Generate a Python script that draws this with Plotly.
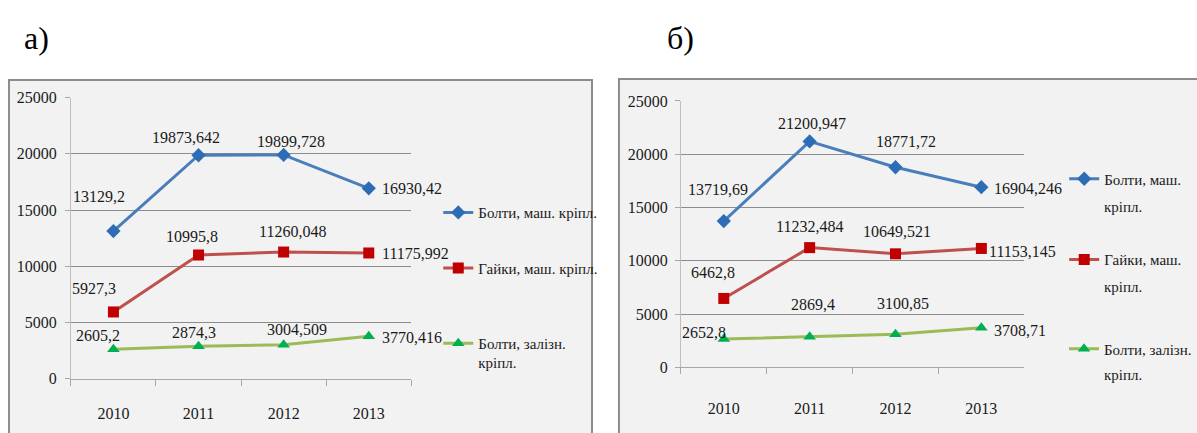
import plotly.graph_objects as go

W, H = 1197, 433

years = ["2010", "2011", "2012", "2013"]
series_names = ["Болти, маш. кріпл.", "Гайки, маш. кріпл.", "Болти, залізн. кріпл."]

# panel а)
a_bolts_mach = [13129.2, 19873.642, 19899.728, 16930.42]
a_nuts_mach = [5927.3, 10995.8, 11260.048, 11175.992]
a_bolts_rail = [2605.2, 2874.3, 3004.509, 3770.416]

# panel б)
b_bolts_mach = [13719.69, 21200.947, 18771.72, 16904.246]
b_nuts_mach = [6462.8, 11232.484, 10649.521, 11153.145]
b_bolts_rail = [2652.8, 2869.4, 3100.85, 3708.71]

y_ticks = [0, 5000, 10000, 15000, 20000, 25000]

FONT = "Liberation Serif, Times New Roman, DejaVu Serif, serif"
TXT = "#1a1a1a"
line_cols = ["#4a7ebb", "#c0504d", "#9bbb59"]
mark_cols = ["#2c6db5", "#c00000", "#00b050"]
symbols = ["diamond", "square", "triangle-up"]
msizes = [11, 11, 11]

# label offsets (xshift, yshift) in px; last point labels to the right
a_offsets = [
    [(-14, 35), (-13, 18), (7, 13), (11, 0)],
    [(-19, 23), (-7, 18), (9, 21), (11, -1)],
    [(-15, 14), (-5, 14), (13, 15), (11, -1)],
]
b_offsets = [
    [(-6, 32), (2, 18), (10, 26), (11, -1)],
    [(-11, 26), (0, 21), (1, 22), (6, -3)],
    [(-20, 7), (3, 32), (7, 31), (11, -3)],
]


def px_x(p):
    return p / W


def px_y(p):
    return (H - p) / H


def fmt(v):
    return str(v).replace(".", ",")


fig = go.Figure()

panels = [
    dict(data=[a_bolts_mach, a_nuts_mach, a_bolts_rail], xa="x", ya="y", offs=a_offsets,
         names=["Болти, маш. кріпл.", "Гайки, маш. кріпл.", "Болти, залізн.<br>кріпл."],
         leg_x=439, leg_y=[213, 271, 359], legs=["legend", "legend2", "legend3"]),
    dict(data=[b_bolts_mach, b_nuts_mach, b_bolts_rail], xa="x2", ya="y2", offs=b_offsets,
         names=["Болти, маш.", "Гайки, маш.", "Болти, залізн."],
         leg_x=1066, leg_y=[178, 262, 355], legs=["legend4", "legend5", "legend6"]),
]

annotations = []
legends = {}
for p in panels:
    for i, vals in enumerate(p["data"]):
        fig.add_trace(go.Scatter(
            x=years, y=vals, xaxis=p["xa"], yaxis=p["ya"],
            mode="lines+markers", name=p["names"][i],
            line=dict(color=line_cols[i], width=3),
            marker=dict(symbol=symbols[i], size=msizes[i], color=mark_cols[i]),
            legend=p["legs"][i], showlegend=True, cliponaxis=False,
        ))
        for j, v in enumerate(vals):
            dx, dy = p["offs"][i][j]
            last = j == len(vals) - 1
            annotations.append(dict(
                x=j, y=v, xref=p["xa"], yref=p["ya"], text=fmt(v), showarrow=False,
                xshift=dx, yshift=dy, xanchor="left" if last else "center", yanchor="middle",
                font=dict(family=FONT, size=16, color=TXT),
            ))
        legends[p["legs"][i]] = dict(
            x=px_x(p["leg_x"]), y=px_y(p["leg_y"][i]), xanchor="left", yanchor="middle",
            bgcolor="rgba(0,0,0,0)", borderwidth=0, valign="top",
            font=dict(family=FONT, size=15, color=TXT), itemwidth=30,
        )

# second lines of wrapped legend entries in panel б
for yy in [207, 290, 382]:
    annotations.append(dict(x=px_x(1104), y=px_y(yy), xref="paper", yref="paper", text="кріпл.",
                            showarrow=False, xanchor="left", yanchor="middle",
                            font=dict(family=FONT, size=15, color=TXT)))

# panel titles
annotations.append(dict(x=px_x(37), y=px_y(31), xref="paper", yref="paper", text="а)", showarrow=False,
                        xanchor="center", yanchor="middle", font=dict(family=FONT, size=32, color="#000")))
annotations.append(dict(x=px_x(682), y=px_y(31), xref="paper", yref="paper", text="б)", showarrow=False,
                        xanchor="center", yanchor="middle", font=dict(family=FONT, size=32, color="#000")))

xaxis_common = dict(type="category", range=[-0.5, 3.5], tickson="boundaries", ticks="outside", ticklen=6,
                    tickcolor="#a6a6a6", showline=True, linecolor="#a6a6a6", linewidth=1, showgrid=False,
                    tickfont=dict(family=FONT, size=16, color=TXT), zeroline=False, fixedrange=True)
yaxis_common = dict(range=[0, 25000], tickvals=y_ticks, tickformat="d", ticks="outside", ticklen=5,
                    tickcolor="#a6a6a6", showline=True, linecolor="#bfbfbf", linewidth=1, showgrid=True,
                    gridcolor="#8c8c8c", gridwidth=1, zeroline=False,
                    tickfont=dict(family=FONT, size=16, color=TXT), fixedrange=True)

layout = dict(
    width=W, height=H, margin=dict(l=0, r=0, t=0, b=0),
    paper_bgcolor="white", plot_bgcolor="rgba(0,0,0,0)",
    xaxis=dict(xaxis_common, domain=[px_x(71), px_x(412)], anchor="y", ticklabelstandoff=20),
    yaxis=dict(yaxis_common, domain=[px_y(385.7), px_y(93.3)], anchor="x", ticklabelstandoff=5),
    xaxis2=dict(xaxis_common, domain=[px_x(682), px_x(1026)], anchor="y2", ticklabelstandoff=26),
    yaxis2=dict(yaxis_common, domain=[px_y(374), px_y(96.7)], anchor="x2", ticklabelstandoff=4),
    annotations=annotations,
    shapes=[
        dict(type="rect", xref="paper", yref="paper", x0=px_x(9), x1=px_x(593), y0=-0.05, y1=px_y(75),
             fillcolor="#f2f2f2", line=dict(color="#8c8c8c", width=2), layer="below"),
        dict(type="rect", xref="paper", yref="paper", x0=px_x(620), x1=1.05, y0=-0.05, y1=px_y(74),
             fillcolor="#f2f2f2", line=dict(color="#8c8c8c", width=2), layer="below"),
    ],
)
layout.update(legends)
fig.update_layout(**layout)

fig.write_html("out.html")
